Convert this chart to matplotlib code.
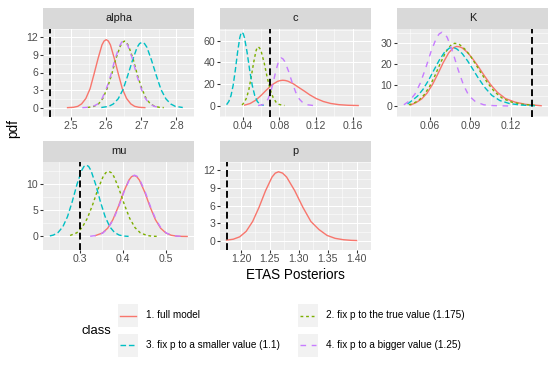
import numpy as np
import matplotlib.pyplot as plt
from matplotlib.patches import Rectangle

plt.rcParams['font.family'] = ['Liberation Sans', 'DejaVu Sans']

# ---- classes -------------------------------------------------------------
CLASSES = ["1. full model", "2. fix p to the true value (1.175)",
           "3. fix p to a smaller value (1.1)", "4. fix p to a bigger value (1.25)"]
COLORS = ["#F8766D", "#7CAE00", "#00BFC4", "#C77CFF"]
DASHES = [None, (2, 2), (4, 2), (4, 4)]

# ---- alpha ---------------------------------------------------------------
ALPHA_FULL_X = [2.490, 2.507, 2.519, 2.530, 2.542, 2.554, 2.565, 2.577, 2.588, 2.594, 2.600,
                2.606, 2.612, 2.623, 2.635, 2.646, 2.658, 2.670, 2.681, 2.693, 2.710]
ALPHA_FULL_Y = [0.01, 0.07, 0.23, 0.65, 1.57, 3.22, 5.65, 8.42, 10.71, 11.37, 11.6,
                11.37, 10.71, 8.42, 5.65, 3.22, 1.57, 0.65, 0.23, 0.07, 0.01]
ALPHA_TRUE_X = [2.547, 2.565, 2.578, 2.590, 2.602, 2.615, 2.627, 2.640, 2.646, 2.652,
                2.658, 2.664, 2.677, 2.689, 2.702, 2.714, 2.726, 2.739, 2.751, 2.764]
ALPHA_TRUE_Y = [0.035, 0.225, 0.637, 1.536, 3.155, 5.525, 8.241, 10.477, 11.12, 11.35,
                11.12, 10.477, 8.241, 5.525, 3.155, 1.536, 0.637, 0.225, 0.068, 0.017]
ALPHA_SMALL_X = [2.586, 2.607, 2.620, 2.634, 2.648, 2.661, 2.675, 2.688, 2.695, 2.702,
                 2.709, 2.716, 2.729, 2.743, 2.756, 2.770, 2.784, 2.797, 2.818]
ALPHA_SMALL_Y = [0.035, 0.221, 0.626, 1.509, 3.100, 5.428, 8.096, 10.293, 10.93, 11.15,
                 10.93, 10.293, 8.096, 5.428, 3.100, 1.509, 0.626, 0.221, 0.035]
ALPHA_BIG_X = [2.532, 2.551, 2.563, 2.576, 2.588, 2.600, 2.613, 2.625, 2.638, 2.644, 2.650,
               2.656, 2.662, 2.675, 2.687, 2.700, 2.712, 2.724, 2.737, 2.752]
ALPHA_BIG_Y = [0.008, 0.068, 0.226, 0.640, 1.542, 3.169, 5.550, 8.278, 10.523, 11.17, 11.4,
               11.17, 10.523, 8.278, 5.550, 3.169, 1.542, 0.640, 0.226, 0.049]
ALPHA_TRUE_VALUE = 2.439

# ---- c -------------------------------------------------------------------
C_FULL_X = [0.042, 0.048, 0.054, 0.060, 0.066, 0.072, 0.078, 0.0808, 0.0835, 0.0862, 0.089,
            0.095, 0.101, 0.107, 0.113, 0.120, 0.128, 0.136, 0.145, 0.155, 0.166]
C_FULL_Y = [0.5, 2.0, 5.0, 9.5, 14.6, 19.3, 22.4, 23.1, 23.4, 23.2, 22.6,
            20.2, 16.8, 13.5, 10.0, 6.6, 3.8, 2.0, 0.9, 0.35, 0.1]
C_TRUE_X = [0.0391, 0.0416, 0.0441, 0.0466, 0.0491, 0.0517, 0.0542, 0.0554, 0.0567,
            0.0583, 0.0600, 0.0633, 0.0665, 0.0698, 0.0731, 0.0764, 0.0797, 0.0854]
C_TRUE_Y = [0.6, 3.04, 7.33, 15.07, 26.38, 39.35, 50.03, 53.1, 54.2,
            53.1, 50.03, 39.35, 26.38, 15.07, 7.33, 3.04, 1.07, 0.12]
C_SMALL_X = [0.0222, 0.0246, 0.027, 0.0294, 0.0318, 0.0342, 0.0366, 0.0378, 0.039,
             0.0404, 0.0418, 0.0446, 0.0474, 0.0502, 0.053, 0.0558, 0.0586, 0.0628]
C_SMALL_Y = [0.9, 3.80, 9.16, 18.82, 32.96, 49.16, 62.49, 66.3, 67.7,
             66.3, 62.49, 49.16, 32.96, 18.82, 9.16, 3.80, 1.34, 0.21]
C_BIG_X = [0.0566, 0.0616, 0.0645, 0.0674, 0.0703, 0.0732, 0.0760, 0.0789, 0.0804, 0.0818,
           0.0838, 0.0858, 0.0898, 0.0938, 0.0978, 0.1018, 0.1058, 0.1098, 0.1178]
C_BIG_Y = [0.10, 0.87, 2.47, 5.95, 12.23, 21.42, 31.95, 40.62, 43.1, 44.0,
           43.1, 40.62, 31.95, 21.42, 12.23, 5.95, 2.47, 0.87, 0.07]
C_TRUE_VALUE = 0.0696

# ---- K -------------------------------------------------------------------
K_FULL_X = [0.0458, 0.050, 0.054, 0.058, 0.062, 0.066, 0.070, 0.074, 0.0775, 0.080, 0.082,
            0.084, 0.088, 0.092, 0.096, 0.100, 0.105, 0.110, 0.116, 0.123, 0.131, 0.1425]
K_FULL_Y = [0.5, 1.7, 3.4, 6.2, 10.3, 15.4, 20.8, 25.4, 27.9, 28.5, 28.3,
            27.8, 25.6, 22.4, 18.8, 14.9, 10.3, 6.6, 3.6, 1.9, 0.8, 0.15]
K_TRUE_X = [0.0445, 0.048, 0.052, 0.056, 0.060, 0.064, 0.068, 0.072, 0.076, 0.0785, 0.080,
            0.082, 0.086, 0.090, 0.094, 0.098, 0.103, 0.108, 0.114, 0.121, 0.129, 0.140]
K_TRUE_Y = [0.6, 1.3, 2.8, 5.5, 9.5, 14.8, 20.7, 26.0, 29.4, 30.0, 29.8,
            29.4, 27.2, 24.0, 20.0, 15.8, 10.9, 6.8, 3.6, 1.8, 0.8, 0.15]
K_SMALL_X = [0.0435, 0.047, 0.051, 0.055, 0.059, 0.063, 0.067, 0.071, 0.0745, 0.0765, 0.078,
             0.080, 0.084, 0.088, 0.092, 0.096, 0.101, 0.106, 0.112, 0.119, 0.127, 0.138]
K_SMALL_Y = [1.0, 2.7, 4.8, 8.0, 12.2, 17.1, 21.9, 25.8, 27.7, 28.0, 27.85,
             27.3, 25.1, 21.6, 17.5, 13.3, 8.7, 5.1, 2.6, 1.2, 0.5, 0.1]
K_BIG_X = [0.0408, 0.045, 0.049, 0.053, 0.057, 0.061, 0.065, 0.067, 0.0691,
           0.0711, 0.073, 0.077, 0.081, 0.085, 0.089, 0.094, 0.100, 0.107, 0.1195]
K_BIG_Y = [0.6, 2.5, 5.7, 11.0, 18.2, 26.2, 32.7, 34.5, 35.3,
           34.5, 32.7, 25.8, 17.4, 10.0, 4.9, 2.0, 0.6, 0.2, 0.02]
K_TRUE_VALUE = 0.1355

# ---- mu ------------------------------------------------------------------
MU_FULL_X = [0.335, 0.3516, 0.364, 0.3764, 0.3888, 0.4012, 0.4136, 0.4198, 0.426, 0.4322,
             0.4384, 0.4508, 0.4632, 0.4756, 0.488, 0.5004, 0.5128, 0.5252, 0.5376, 0.55]
MU_FULL_Y = [0.16, 0.66, 1.58, 3.25, 5.70, 8.50, 10.80, 11.47, 11.7, 11.47,
             10.80, 8.50, 5.70, 3.25, 1.58, 0.66, 0.23, 0.07, 0.02, 0.004]
MU_TRUE_X = [0.2761, 0.2916, 0.304, 0.3164, 0.3288, 0.3412, 0.3536, 0.3598, 0.366, 0.3722,
             0.3784, 0.3908, 0.4032, 0.4156, 0.428, 0.4404, 0.4561, 0.4683, 0.483]
MU_TRUE_Y = [0.19, 0.70, 1.69, 3.48, 6.09, 9.08, 11.54, 12.25, 12.5, 12.25,
             11.54, 9.08, 6.09, 3.48, 1.69, 0.70, 0.19, 0.05, 0.01]
MU_SMALL_X = [0.2287, 0.237, 0.248, 0.259, 0.270, 0.281, 0.292, 0.303, 0.3085, 0.314, 0.3195,
              0.325, 0.336, 0.347, 0.358, 0.369, 0.380, 0.391, 0.402, 0.413]
MU_SMALL_Y = [0.11, 0.27, 0.77, 1.85, 3.81, 6.67, 9.95, 12.65, 13.43, 13.7, 13.43,
              12.65, 9.95, 6.67, 3.81, 1.85, 0.77, 0.27, 0.08, 0.02]
MU_BIG_X = [0.323, 0.3402, 0.3526, 0.365, 0.3774, 0.3898, 0.4022, 0.4146, 0.4208, 0.427,
            0.4332, 0.4394, 0.4518, 0.4642, 0.4766, 0.489, 0.5014, 0.5138, 0.5262, 0.535]
MU_BIG_Y = [0.04, 0.23, 0.66, 1.59, 3.27, 5.72, 8.53, 10.85, 11.52, 11.75,
            11.52, 10.85, 8.53, 5.72, 3.27, 1.59, 0.66, 0.23, 0.07, 0.03]
MU_TRUE_VALUE = 0.3

# ---- p -------------------------------------------------------------------
P_FULL_X = [1.175, 1.1866, 1.1978, 1.209, 1.2202, 1.2314, 1.2426, 1.2538, 1.2594, 1.265,
            1.272, 1.279, 1.293, 1.307, 1.321, 1.335, 1.349, 1.363, 1.377, 1.391, 1.400]
P_FULL_Y = [0.1, 0.25, 0.66, 1.59, 3.27, 5.72, 8.53, 10.85, 11.52, 11.75,
            11.52, 10.85, 8.53, 5.72, 3.27, 1.9, 0.9, 0.4, 0.17, 0.06, 0.03]
P_TRUE_VALUE = 1.175

# ---- ticks ---------------------------------------------------------------
ALPHA_XT, ALPHA_YT = [2.5, 2.6, 2.7, 2.8], [0, 3, 6, 9, 12]
C_XT, C_YT = [0.04, 0.08, 0.12, 0.16], [0, 20, 40, 60]
K_XT, K_YT = [0.06, 0.09, 0.12], [0, 10, 20, 30]
MU_XT, MU_YT = [0.3, 0.4, 0.5], [0, 5, 10]
P_XT, P_YT = [1.20, 1.25, 1.30, 1.35, 1.40], [0, 3, 6, 9, 12]

# name, panel left/top (px), curves per class (None = absent), true value, ticks, formats
panels = [
    ("alpha", 43, 7.5, [(ALPHA_FULL_X, ALPHA_FULL_Y), (ALPHA_TRUE_X, ALPHA_TRUE_Y),
                        (ALPHA_SMALL_X, ALPHA_SMALL_Y), (ALPHA_BIG_X, ALPHA_BIG_Y)],
     ALPHA_TRUE_VALUE, ALPHA_XT, ALPHA_YT, "{:.1f}"),
    ("c", 220, 7.5, [(C_FULL_X, C_FULL_Y), (C_TRUE_X, C_TRUE_Y),
                     (C_SMALL_X, C_SMALL_Y), (C_BIG_X, C_BIG_Y)],
     C_TRUE_VALUE, C_XT, C_YT, "{:.2f}"),
    ("K", 397, 7.5, [(K_FULL_X, K_FULL_Y), (K_TRUE_X, K_TRUE_Y),
                     (K_SMALL_X, K_SMALL_Y), (K_BIG_X, K_BIG_Y)],
     K_TRUE_VALUE, K_XT, K_YT, "{:.2f}"),
    ("mu", 43, 140.5, [(MU_FULL_X, MU_FULL_Y), (MU_TRUE_X, MU_TRUE_Y),
                       (MU_SMALL_X, MU_SMALL_Y), (MU_BIG_X, MU_BIG_Y)],
     MU_TRUE_VALUE, MU_XT, MU_YT, "{:.1f}"),
    ("p", 220, 140.5, [(P_FULL_X, P_FULL_Y), None, None, None],
     P_TRUE_VALUE, P_XT, P_YT, "{:.2f}"),
]

W, H = 555, 370
PW, PH, SH = 151, 88, 21
fig = plt.figure(figsize=(W / 72, H / 72), dpi=72)


def px_axes(x, y, w, h):
    return fig.add_axes([x / W, 1 - (y + h) / H, w / W, h / H])


def midpoints(ticks):
    step = ticks[1] - ticks[0]
    ext = [ticks[0] - step] + list(ticks) + [ticks[-1] + step]
    return [(a + b) / 2 for a, b in zip(ext[:-1], ext[1:])]


for name, x0, y0, curves, true_val, xt, yt, xfmt in panels:
    ax = px_axes(x0, y0 + SH, PW, PH)
    ax.set_facecolor("#EBEBEB")
    for sp in ax.spines.values():
        sp.set_visible(False)

    xs_all, ys_all = [true_val], []
    for i, cur in enumerate(curves):
        if cur is None:
            continue
        line, = ax.plot(cur[0], cur[1], color=COLORS[i], lw=1.4, zorder=2 + i * 0.1)
        if DASHES[i]:
            line.set_dashes(DASHES[i])
        xs_all += list(cur[0])
        ys_all += list(cur[1])
    ax.axvline(true_val, color="black", lw=1.9, dashes=(3.6, 1.9), zorder=3)

    lo, hi = min(xs_all), max(xs_all)
    ax.set_xlim(lo - 0.05 * (hi - lo), hi + 0.05 * (hi - lo))
    lo, hi = min(ys_all), max(ys_all)
    ax.set_ylim(lo - 0.05 * (hi - lo), hi + 0.05 * (hi - lo))

    ax.set_xticks(xt, [xfmt.format(v) for v in xt])
    ax.set_yticks(yt, [str(v) for v in yt])
    ax.set_xticks(midpoints(xt), minor=True)
    ax.set_yticks(midpoints(yt), minor=True)
    ax.tick_params(which="major", length=2.75, width=1.07, color="#333333",
                   labelsize=10.5, labelcolor="#4D4D4D", pad=2.2)
    ax.tick_params(which="minor", length=0)
    ax.grid(which="major", color="white", lw=1.07)
    ax.grid(which="minor", color="white", lw=0.53)
    ax.set_axisbelow(True)

    sax = px_axes(x0, y0, PW, SH)
    sax.set_facecolor("#D9D9D9")
    sax.set_xticks([])
    sax.set_yticks([])
    for sp in sax.spines.values():
        sp.set_visible(False)
    sax.text(0.5, 0.5, name, ha="center", va="center", fontsize=11, color="#1A1A1A",
             transform=sax.transAxes)

fig.text(295.5 / W, 1 - 275 / H, "ETAS Posteriors", ha="center", va="center", fontsize=13.5)
fig.text(13 / W, 1 - 129 / H, "pdf", ha="center", va="center", rotation=90, fontsize=13.5)

# legend drawn by hand in pixel space
lax = fig.add_axes([0, 0, 1, 1])
lax.set_xlim(0, W)
lax.set_ylim(H, 0)
lax.axis("off")
lax.text(81, 331, "class", ha="left", va="center", fontsize=13)
key_cols = [118, 298]
key_rows = [315.5, 345]
for i, label in enumerate(CLASSES):
    kx, cy = key_cols[i % 2], key_rows[i // 2]
    lax.add_patch(Rectangle((kx, cy - 11.5), 20, 23, facecolor="#F2F2F2", edgecolor="none"))
    ln, = lax.plot([kx + 2, kx + 18], [cy, cy], color=COLORS[i], lw=1.4)
    if DASHES[i]:
        ln.set_dashes(DASHES[i])
    lax.text(kx + 27.5, cy, label, ha="left", va="center", fontsize=10)

fig.savefig("out.png", dpi=72)
